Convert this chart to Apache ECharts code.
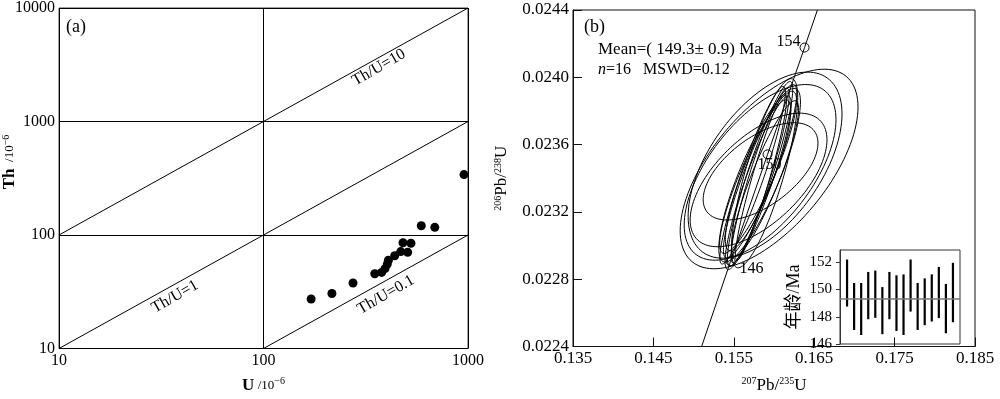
<!DOCTYPE html>
<html>
<head>
<meta charset="utf-8">
<script src="https://cdn.jsdelivr.net/npm/echarts@6/dist/echarts.min.js"></script>
<style>
    html, body { margin: 0; padding: 0; background: #fff; }
    #main { width: 1000px; height: 399px; }
</style>
</head>
<body>
<div id="main"></div>
<script>
    // (a) Th - U
    var uVals  = [171, 216, 274, 350, 378, 393, 403, 408, 438, 469, 481, 507, 526, 591, 688, 956];
    var thVals = [27.3, 30.5, 37.8, 45.6, 46.8, 50.6, 55.4, 59.9, 65.7, 71.4, 85.5, 70.4, 84.5, 120.7, 116.8, 340.6];
    var line10 = [[10, 100], [1000, 10000]];
    var line1  = [[10, 10], [1000, 1000]];
    var line01 = [[100, 10], [1000, 100]];
    var ratioLabels = ['Th/U=10', 'Th/U=1', 'Th/U=0.1'];
    var ratioLabelAt = [[367, 2990], [36.9, 28.6], [397, 29.7]];

    // (b) concordia
    var concordiaX = [0.1510, 0.1546, 0.1592, 0.1638, 0.1654];
    var concordiaY = [0.02240, 0.022907, 0.023542, 0.024177, 0.02440];
    var ageMarks = [146, 150, 154];
    var ageMarkIdx = [1, 2, 3];
    var xTicks = [0.135, 0.145, 0.155, 0.165, 0.175, 0.185];
    var yTicks = [0.0224, 0.0228, 0.0232, 0.0236, 0.0240, 0.0244];

    // error ellipses: centre, half-extent in x / y, rho
    var ellCx  = [0.15939, 0.15889, 0.15808, 0.15833, 0.15827, 0.15827, 0.15827, 0.15827, 0.15839, 0.15802, 0.15802, 0.15889, 0.15734, 0.15883, 0.15802, 0.15821];
    var ellCy  = [0.023455, 0.023478, 0.023390, 0.023441, 0.023435, 0.023427, 0.023416, 0.023441, 0.023407, 0.023435, 0.023373, 0.023399, 0.023418, 0.023430, 0.023418, 0.023418];
    var ellSx  = [0.01106, 0.00957, 0.00851, 0.00714, 0.00944, 0.00406, 0.00362, 0.00456, 0.00318, 0.00478, 0.00411, 0.00417, 0.00407, 0.00412, 0.00407, 0.00508];
    var ellSy  = [0.000593, 0.000553, 0.000397, 0.000289, 0.000522, 0.000548, 0.000519, 0.000516, 0.000494, 0.000482, 0.000516, 0.000462, 0.000528, 0.000562, 0.000448, 0.000516];
    var ellRho = [0.62, 0.55, 0.60, 0.58, 0.60, 0.917, 0.926, 0.900, 0.936, 0.884, 0.906, 0.894, 0.930, 0.798, 0.855, 0.843];

    // inset: ages
    var ageLo = [148.75, 147.03, 146.66, 147.82, 147.92, 146.72, 147.82, 146.96, 146.66, 148.38, 147.03, 147.38, 147.65, 147.90, 146.79, 147.60];
    var ageHi = [152.20, 150.48, 150.48, 151.29, 151.39, 150.18, 151.29, 151.04, 151.11, 152.20, 150.48, 150.82, 151.11, 151.66, 150.41, 151.96];
    var meanAge = 149.3;

    var serif = 'Liberation Serif, Times New Roman, serif';
    var chart = echarts.init(document.getElementById('main'));

    var richName = {
        b: {fontFamily: serif, fontSize: 17, fontWeight: 'bold', color: '#000'},
        t: {fontFamily: serif, fontSize: 17, color: '#000'},
        s: {fontFamily: serif, fontSize: 13, color: '#000'},
        sup: {fontFamily: serif, fontSize: 10, color: '#000', verticalAlign: 'top', padding: [0, 0, 8, 0]}
    };

    var scatterA = uVals.map(function (u, i) { return [u, thVals[i]]; });
    var ratioPts = ratioLabels.map(function (n, i) { return {name: n, value: ratioLabelAt[i]}; });
    var concordia = concordiaX.map(function (x, i) { return [x, concordiaY[i]]; });
    var labelPos = {
        146: {position: 'right', distance: 4, offset: [0, 8]},
        150: {position: 'bottom', distance: 0, offset: [2, -3]},
        154: {position: 'left', distance: 1, offset: [2, -6]}
    };
    var marks = ageMarks.map(function (a, i) {
        var k = ageMarkIdx[i];
        return {value: [concordiaX[k], concordiaY[k], a], label: labelPos[a]};
    });
    var ellData = ellCx.map(function (x, i) { return [x, ellCy[i], ellSx[i], ellSy[i], ellRho[i]]; });
    var barData = ageLo.map(function (lo, i) { return [i + 1, lo, ageHi[i]]; });

    var plainNum = function (v) { return String(Math.round(v)); };

    var option = {
        animation: false,
        backgroundColor: '#fff',
        textStyle: {fontFamily: serif},
        grid: [
            {left: 59, top: 7, width: 409, height: 355, show: true, borderColor: '#444', borderWidth: 1},
            {left: 573, top: 10, width: 402, height: 352.5, show: true, borderColor: '#111', borderWidth: 1},
            {left: 840, top: 250, width: 120, height: 94, show: true, borderColor: '#333', borderWidth: 1, backgroundColor: '#fff'}
        ],
        xAxis: [
            {
                type: 'log', logBase: 10, min: 10, max: 1000, gridIndex: 0,
                axisLine: {show: false}, axisTick: {show: false},
                splitLine: {show: true, lineStyle: {color: '#000', width: 1}},
                axisLabel: {color: '#000', fontFamily: serif, fontSize: 16, margin: 4, formatter: plainNum},
                name: '{b|U}{s| /10}{sup|−6}', nameLocation: 'middle', nameGap: 28,
                nameTextStyle: {rich: richName}
            },
            {
                type: 'value', min: 0.135, max: 0.185, gridIndex: 1,
                axisLine: {show: true, lineStyle: {color: '#111'}},
                axisTick: {show: true, inside: true, length: 9, customValues: xTicks, lineStyle: {color: '#111'}},
                axisLabel: {color: '#000', fontFamily: serif, fontSize: 17, margin: 4, customValues: xTicks,
                    formatter: function (v) { return v.toFixed(3); }},
                splitLine: {show: false},
                name: '{sup|207}{t|Pb/}{sup|235}{t|U}', nameLocation: 'middle', nameGap: 30,
                nameTextStyle: {rich: richName}
            },
            {type: 'value', min: 0, max: 17, gridIndex: 2, show: false}
        ],
        yAxis: [
            {
                type: 'log', logBase: 10, min: 10, max: 10000, gridIndex: 0,
                axisLine: {show: false}, axisTick: {show: false},
                splitLine: {show: true, lineStyle: {color: '#000', width: 1}},
                axisLabel: {color: '#000', fontFamily: serif, fontSize: 16, margin: 4, formatter: plainNum}
            },
            {
                type: 'value', min: 0.0224, max: 0.0244, gridIndex: 1,
                axisLine: {show: true, lineStyle: {color: '#111'}},
                axisTick: {show: true, inside: true, length: 9, customValues: yTicks, lineStyle: {color: '#111'}},
                axisLabel: {color: '#000', fontFamily: serif, fontSize: 17, margin: 4, customValues: yTicks,
                    formatter: function (v) { return v.toFixed(4); }},
                splitLine: {show: false},
                name: '{sup|206}{t|Pb/}{sup|238}{t|U}', nameLocation: 'middle', nameGap: 62, nameRotate: 90,
                nameTextStyle: {rich: richName}
            },
            {
                type: 'value', min: 146, max: 152.9, interval: 2, gridIndex: 2,
                axisLine: {show: true, lineStyle: {color: '#333'}},
                axisTick: {show: true, length: 4, lineStyle: {color: '#333'}},
                axisLabel: {color: '#000', fontFamily: serif, fontSize: 15, margin: 8, showMaxLabel: false},
                splitLine: {show: false},
                name: '年龄/Ma', nameLocation: 'middle', nameGap: 37, nameRotate: 90,
                nameTextStyle: {color: '#000', fontFamily: 'Liberation Serif, Noto Sans CJK SC', fontSize: 18}
            }
        ],
        graphic: [
            {type: 'text', x: 66, y: 18, style: {text: '(a)', font: '18px ' + serif, fill: '#000'}},
            {type: 'text', x: 584, y: 18, style: {text: '(b)', font: '18px ' + serif, fill: '#000'}},
            {type: 'text', x: 598, y: 41, style: {text: 'Mean=( 149.3± 0.9) Ma', font: '17px ' + serif, fill: '#000'}},
            {type: 'text', x: 598, y: 62, style: {
                text: '{i|n}{t|=16   MSWD=0.12}',
                rich: {i: {fontFamily: serif, fontSize: 16, fontStyle: 'italic', color: '#000'},
                       t: {fontFamily: serif, fontSize: 16, color: '#000'}}
            }},
            {type: 'text', x: 10, y: 162, rotation: Math.PI / 2, style: {
                text: '{b|Th}{s|  /10}{sup|−6}', rich: richName, align: 'center', verticalAlign: 'middle'
            }}
        ],
        series: [
            {
                type: 'scatter', xAxisIndex: 0, yAxisIndex: 0, data: scatterA,
                symbolSize: 9, itemStyle: {color: '#000', opacity: 1}, z: 5
            },
            {type: 'line', xAxisIndex: 0, yAxisIndex: 0, data: line10, symbol: 'none', lineStyle: {color: '#000', width: 1}},
            {type: 'line', xAxisIndex: 0, yAxisIndex: 0, data: line1, symbol: 'none', lineStyle: {color: '#000', width: 1}},
            {type: 'line', xAxisIndex: 0, yAxisIndex: 0, data: line01, symbol: 'none', lineStyle: {color: '#000', width: 1}},
            {
                type: 'scatter', xAxisIndex: 0, yAxisIndex: 0, data: ratioPts, symbolSize: 0,
                itemStyle: {opacity: 1},
                label: {show: true, position: 'inside', rotate: 30, formatter: '{b}',
                    color: '#000', fontFamily: serif, fontSize: 16}
            },
            {
                type: 'custom', xAxisIndex: 1, yAxisIndex: 1, data: ellData, clip: true,
                encode: {x: 0, y: 1},
                renderItem: function (params, api) {
                    var cx = api.value(0), cy = api.value(1), sx = api.value(2), sy = api.value(3), r = api.value(4);
                    var k = Math.sqrt(1 - r * r);
                    var pts = [];
                    for (var i = 0; i < 120; i++) {
                        var t = i / 120 * Math.PI * 2;
                        pts.push(api.coord([cx + sx * Math.cos(t), cy + sy * (r * Math.cos(t) + k * Math.sin(t))]));
                    }
                    return {type: 'polygon', shape: {points: pts}, style: {fill: 'none', stroke: '#000', lineWidth: 1}};
                }
            },
            {
                type: 'line', xAxisIndex: 1, yAxisIndex: 1, data: concordia, symbol: 'none',
                lineStyle: {color: '#000', width: 1}
            },
            {
                type: 'scatter', xAxisIndex: 1, yAxisIndex: 1, data: marks, symbol: 'circle', symbolSize: 9,
                itemStyle: {color: 'rgba(255,255,255,0)', borderColor: '#000', borderWidth: 1, opacity: 1}, z: 6,
                label: {show: true, color: '#000', fontFamily: serif, fontSize: 16,
                    formatter: function (p) { return p.value[2]; }}
            },
            {
                type: 'custom', xAxisIndex: 2, yAxisIndex: 2, data: barData,
                encode: {x: 0, y: [1, 2]},
                renderItem: function (params, api) {
                    var i = api.value(0);
                    var p1 = api.coord([i, api.value(1)]);
                    var p2 = api.coord([i, api.value(2)]);
                    return {type: 'line', shape: {x1: p1[0], y1: p1[1], x2: p2[0], y2: p2[1]},
                        style: {stroke: '#000', lineWidth: 2.2}};
                }
            },
            {
                type: 'line', xAxisIndex: 2, yAxisIndex: 2, data: [[0, meanAge], [17, meanAge]], symbol: 'none',
                lineStyle: {color: '#777', width: 1.5}
            }
        ]
    };
    chart.setOption(option);
</script>
</body>
</html>
